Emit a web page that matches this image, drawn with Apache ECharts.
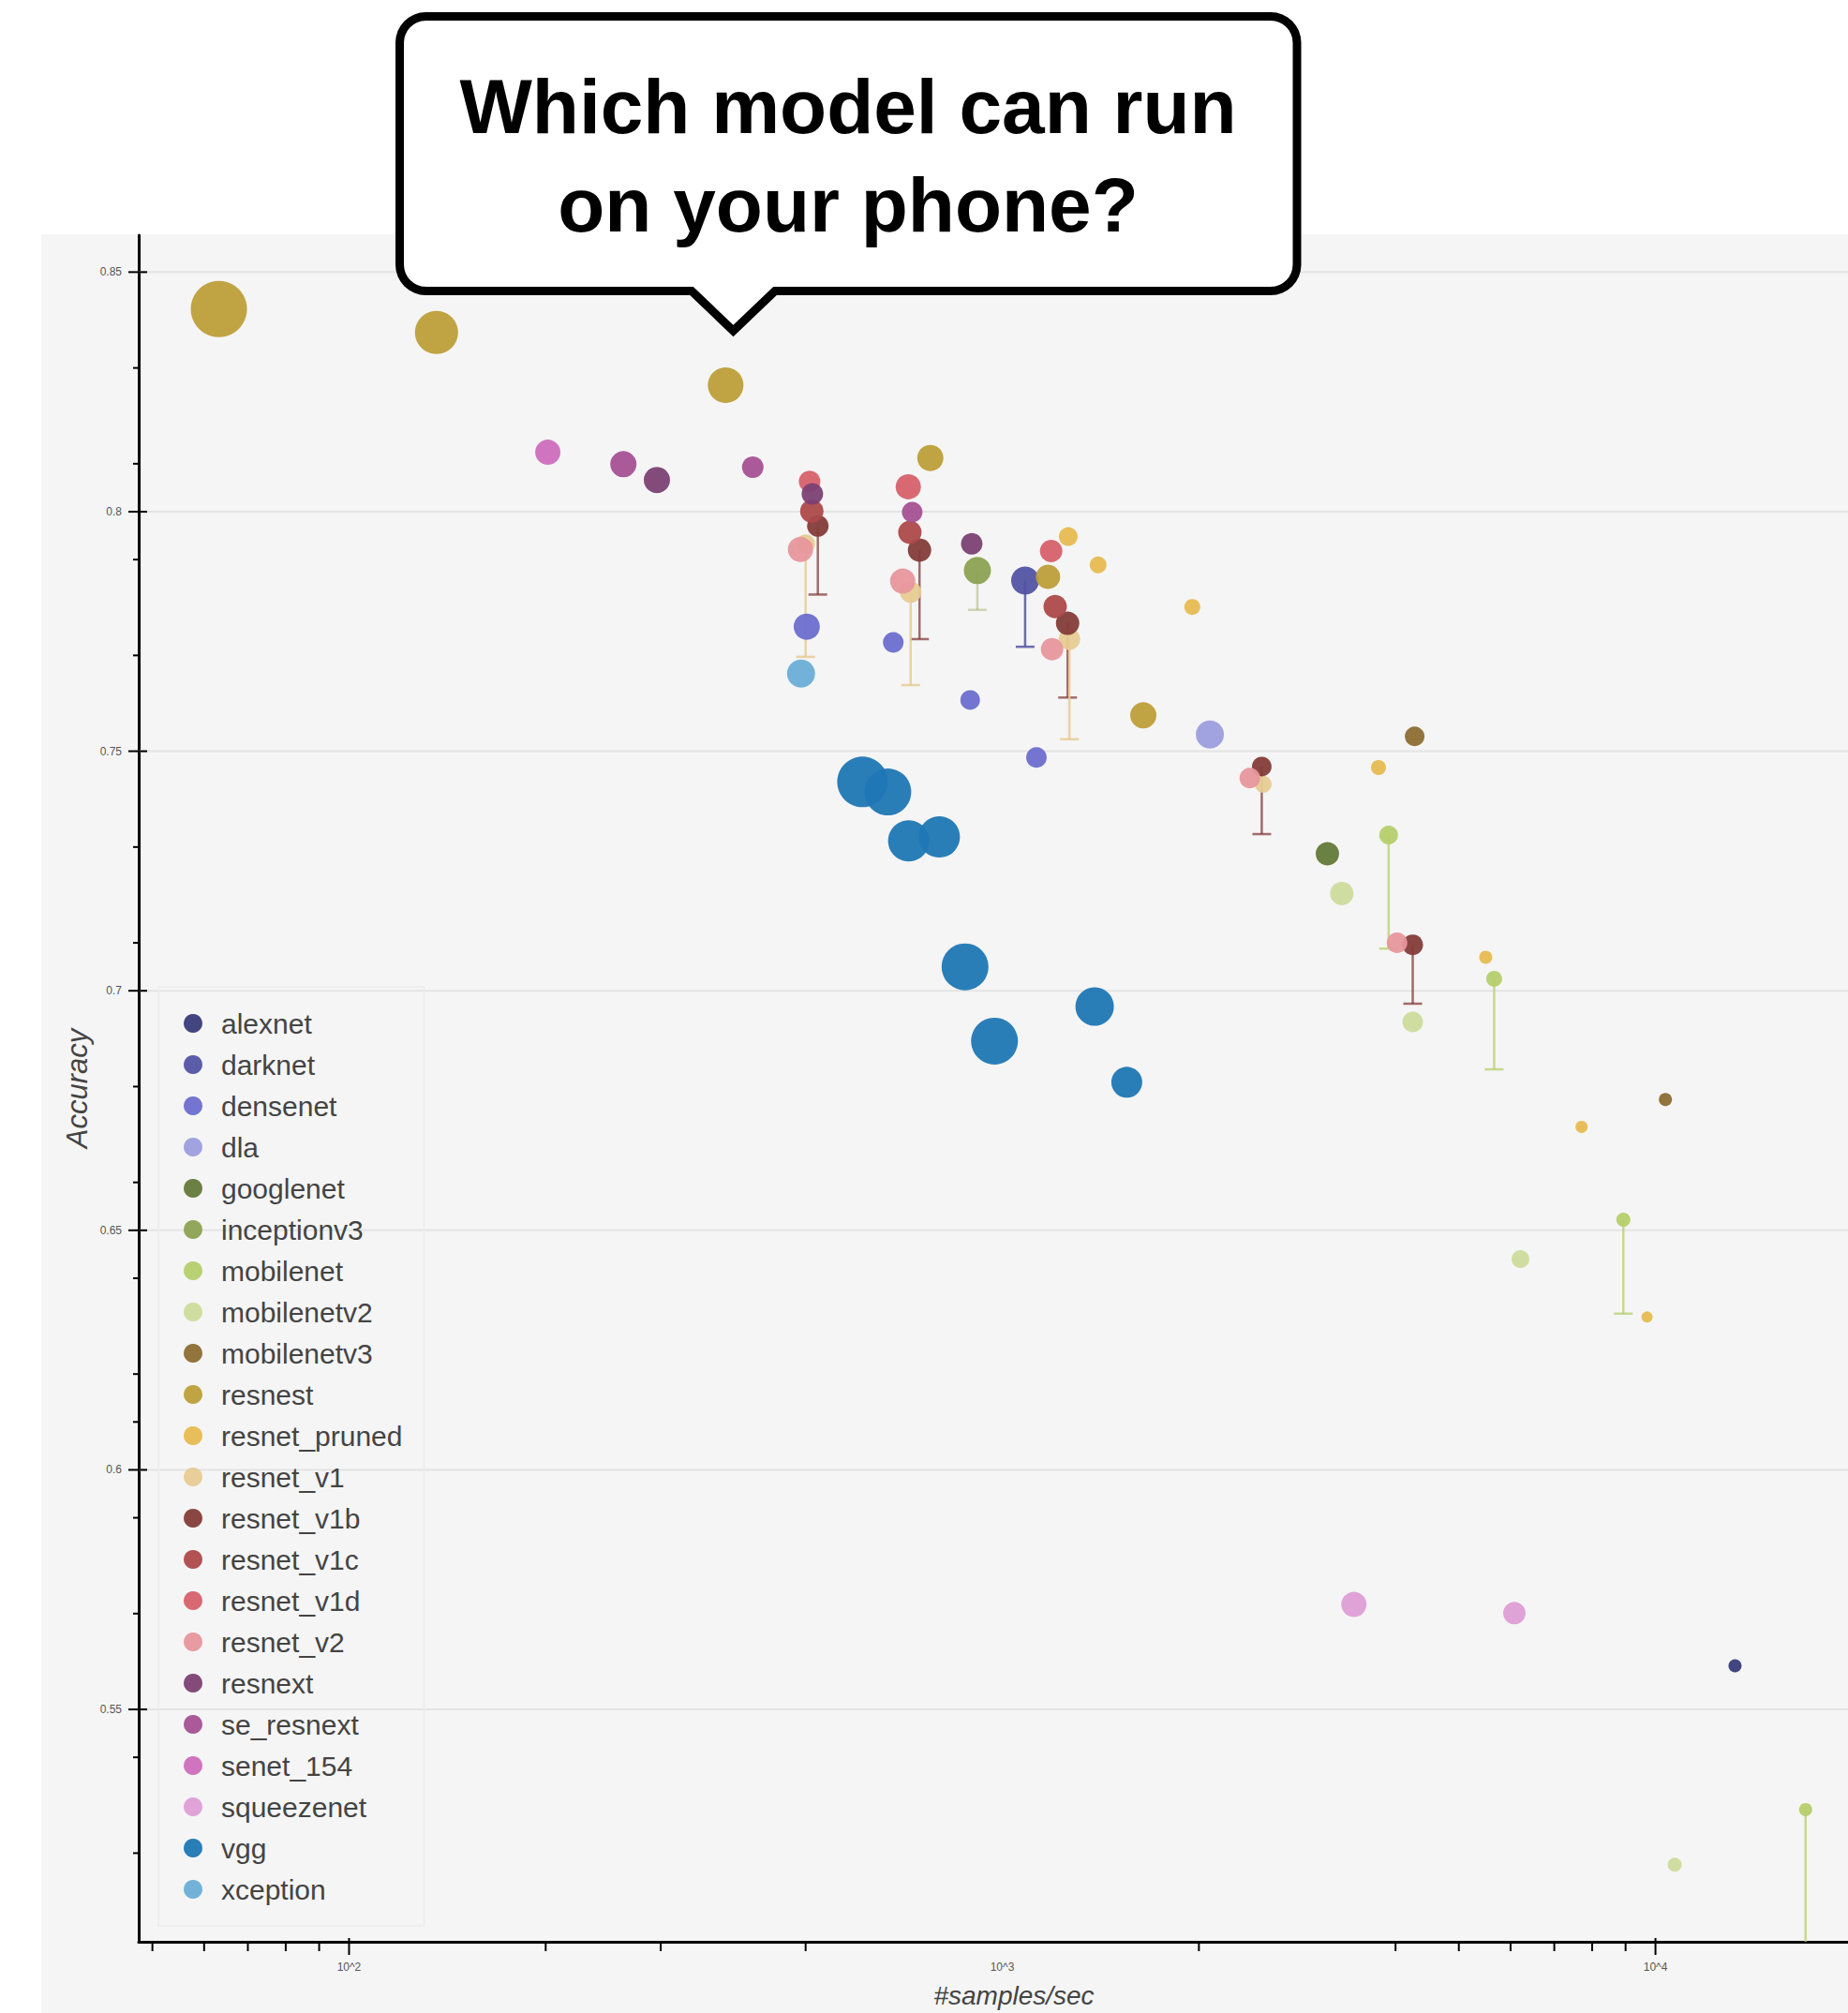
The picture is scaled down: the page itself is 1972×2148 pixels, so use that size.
<!DOCTYPE html>
<html>
<head>
<meta charset="utf-8">
<script src="https://cdn.jsdelivr.net/npm/echarts@6/dist/echarts.min.js"></script>
<style>
  html, body { margin: 0; padding: 0; background: #ffffff; }
  #wrap { position: relative; width: 1972px; height: 2148px; overflow: hidden; }
  #panel { position: absolute; left: 44px; top: 250px; width: 1928px; height: 1898px; background: #f5f5f5; }
  #chart { position: absolute; left: 0; top: 0; width: 1972px; height: 2148px; }
</style>
</head>
<body>
<div id="wrap"><div id="panel"></div><div id="chart"></div></div>
<script>
// ---------------- DATA ----------------
// each point: [samples per second, accuracy, relative model size]
const models = ['alexnet', 'darknet', 'densenet', 'dla', 'googlenet', 'inceptionv3', 'mobilenet',
  'mobilenetv2', 'mobilenetv3', 'resnest', 'resnet_pruned', 'resnet_v1', 'resnet_v1b', 'resnet_v1c',
  'resnet_v1d', 'resnet_v2', 'resnext', 'se_resnext', 'senet_154', 'squeezenet', 'vgg', 'xception'];

const colors = ['#393b79', '#5254a3', '#6b6ecf', '#9c9ede', '#637939', '#8ca252', '#b5cf6b',
  '#cedb9c', '#8c6d31', '#bd9e39', '#e7ba52', '#e7cb94', '#843c39', '#ad494a', '#d6616b',
  '#e7969c', '#7b4173', '#a55194', '#ce6dbd', '#de9ed6', '#1f77b4', '#6baed6'];

const alexnet = [[13236, 0.5591, 7]];
const darknet = [[1084, 0.7856, 15]];
const densenet = [[502, 0.7760, 14], [681, 0.7727, 11], [893, 0.7607, 10.5], [1128, 0.7487, 11]];
const dla = [[2079, 0.7535, 15]];
const googlenet = [[3146, 0.7286, 12.5]];
const inceptionv3 = [[916, 0.7877, 14.5]];
const mobilenet = [[3904, 0.7325, 10], [5663, 0.7025, 8.5], [8929, 0.6522, 7.5], [16976, 0.5291, 7]];
const mobilenetv2 = [[3310, 0.7203, 12.5], [4250, 0.6935, 11], [6213, 0.6440, 9.5], [10701, 0.5176, 7.5]];
const mobilenetv3 = [[4279, 0.7531, 10.5], [10356, 0.6773, 7]];
const resnest = [[63.2, 0.8423, 30], [136.1, 0.8374, 23], [377.2, 0.8264, 19], [776, 0.8112, 14], [1175, 0.7864, 13], [1644, 0.7575, 14]];
const resnet_pruned = [[1262, 0.7948, 10], [1402, 0.7889, 9], [1954, 0.7801, 8.5], [3767, 0.7466, 8], [5497, 0.7070, 7], [7706, 0.6716, 6.5], [9707, 0.6319, 6]];
const resnet_v1 = [[500, 0.7933, 10], [724, 0.7832, 11.5], [1267, 0.7734, 11.5], [2509, 0.7431, 9]];
const resnet_v1b = [[522, 0.7970, 11.5], [747, 0.7920, 12.5], [1259, 0.7767, 12.5], [2496, 0.7468, 10.5], [4250, 0.7096, 11]];
const resnet_v1c = [[511, 0.8001, 12.5], [722, 0.7957, 12.5], [1205, 0.7802, 12.5]];
const resnet_v1d = [[507, 0.8063, 11.5], [718, 0.8052, 13.5], [1188, 0.7918, 12]];
const resnet_v2 = [[491, 0.7921, 13.5], [704, 0.7855, 13.5], [1192, 0.7713, 12], [2393, 0.7444, 11], [4021, 0.7100, 11]];
const resnext = [[296, 0.8066, 14], [512, 0.8037, 11.5], [898, 0.7933, 11.5]];
const se_resnext = [[263, 0.8099, 14], [415, 0.8093, 11.5], [728, 0.7999, 11]];
const senet_154 = [[201.5, 0.8124, 13.5]];
const squeezenet = [[3454, 0.5719, 13.5], [6081, 0.5701, 12]];
const vgg = [[611, 0.7436, 27], [668, 0.7415, 25], [719, 0.7313, 22], [801, 0.7321, 22], [877, 0.7050, 25], [973, 0.6895, 25], [1385, 0.6967, 20.5], [1551, 0.6809, 16.5]];
const xception = [[492, 0.7662, 15]];

// error bars: [samples per second, upper accuracy, lower accuracy]
const resnet_v1b_err = [[522, 0.7970, 0.7827], [747, 0.7920, 0.7734], [1259, 0.7767, 0.7612], [2496, 0.7468, 0.7327], [4250, 0.7096, 0.6973]];
const resnet_v1_err = [[500, 0.7933, 0.7697], [724, 0.7832, 0.7638], [1267, 0.7734, 0.7525]];
const inceptionv3_err = [[916, 0.7877, 0.7795]];
const darknet_err = [[1084, 0.7856, 0.7718]];
const mobilenet_err = [[3904, 0.7325, 0.7088], [5663, 0.7025, 0.6836], [8929, 0.6522, 0.6326], [16976, 0.5291, 0.49]];

// axes
const X_MIN = 47.64, X_MAX = 19712;
const Y_MIN = 0.5015, Y_MAX = 0.8577;
const xLabelTicks = [100, 1000, 10000];
const xTickLabels = ['10^2', '10^3', '10^4'];
const xMajorTickMarks = [100, 10000];
const xMinorTicks = [50, 60, 70, 80, 90, 200, 300, 500, 2000, 4000, 5000, 6000, 7000, 8000, 9000];
const yMajorTicks = [0.55, 0.6, 0.65, 0.7, 0.75, 0.8, 0.85];
const yTickLabels = ['0.55', '0.6', '0.65', '0.7', '0.75', '0.8', '0.85'];
const yMinorTicks = [0.52, 0.54, 0.57, 0.59, 0.61, 0.62, 0.64, 0.66, 0.68, 0.71, 0.73, 0.77, 0.79, 0.81, 0.83];

// ---------------- CHART ----------------
const modelData = {alexnet, darknet, densenet, dla, googlenet, inceptionv3, mobilenet, mobilenetv2,
  mobilenetv3, resnest, resnet_pruned, resnet_v1, resnet_v1b, resnet_v1c, resnet_v1d, resnet_v2,
  resnext, se_resnext, senet_154, squeezenet, vgg, xception};
const errData = {resnet_v1b: resnet_v1b_err, resnet_v1: resnet_v1_err, inceptionv3: inceptionv3_err,
  darknet: darknet_err, mobilenet: mobilenet_err};
const errOpacity = {resnet_v1b: 0.75, resnet_v1: 0.85, inceptionv3: 0.4, darknet: 0.85, mobilenet: 0.75};

const FONT = '"Liberation Sans", Arial, Helvetica, sans-serif';
const series = [];

// grid lines
series.push({
  type: 'custom', name: '_grid', z: 1, silent: true, clip: false,
  data: yMajorTicks.map(v => [X_MIN, v]),
  renderItem: (params, api) => {
    const cs = params.coordSys;
    const p = api.coord([X_MIN, api.value(1)]);
    return {type: 'line', shape: {x1: cs.x, y1: p[1], x2: cs.x + cs.width, y2: p[1]},
      style: {stroke: '#e4e4e4', lineWidth: 2}};
  }
});

// y ticks + labels
series.push({
  type: 'custom', name: '_yticks', z: 5, silent: true, clip: false,
  data: yMajorTicks.map(v => [X_MIN, v]),
  renderItem: (params, api) => {
    const cs = params.coordSys;
    const p = api.coord([X_MIN, api.value(1)]);
    return {type: 'group', children: [
      {type: 'line', shape: {x1: cs.x - 11, y1: p[1], x2: cs.x + 9, y2: p[1]}, style: {stroke: '#000', lineWidth: 2}},
      {type: 'text', x: cs.x - 18, y: p[1], style: {text: yTickLabels[params.dataIndex], fill: '#555',
        font: '12px ' + FONT, align: 'right', verticalAlign: 'middle'}}
    ]};
  }
});
series.push({
  type: 'custom', name: '_yminor', z: 5, silent: true, clip: false,
  data: yMinorTicks.map(v => [X_MIN, v]),
  renderItem: (params, api) => {
    const cs = params.coordSys;
    const p = api.coord([X_MIN, api.value(1)]);
    return {type: 'line', shape: {x1: cs.x - 6, y1: p[1], x2: cs.x, y2: p[1]}, style: {stroke: '#000', lineWidth: 2}};
  }
});

// x ticks + labels
series.push({
  type: 'custom', name: '_xmajor', z: 5, silent: true, clip: false,
  data: xMajorTickMarks.map(v => [v, Y_MIN]),
  renderItem: (params, api) => {
    const cs = params.coordSys;
    const p = api.coord([api.value(0), Y_MIN]);
    const y0 = cs.y + cs.height;
    return {type: 'line', shape: {x1: p[0], y1: y0 - 4, x2: p[0], y2: y0 + 14}, style: {stroke: '#000', lineWidth: 2}};
  }
});
series.push({
  type: 'custom', name: '_xminor', z: 5, silent: true, clip: false,
  data: xMinorTicks.map(v => [v, Y_MIN]),
  renderItem: (params, api) => {
    const cs = params.coordSys;
    const p = api.coord([api.value(0), Y_MIN]);
    const y0 = cs.y + cs.height;
    return {type: 'line', shape: {x1: p[0], y1: y0, x2: p[0], y2: y0 + 10}, style: {stroke: '#000', lineWidth: 2}};
  }
});
series.push({
  type: 'custom', name: '_xlabels', z: 5, silent: true, clip: false,
  data: xLabelTicks.map(v => [v, Y_MIN]),
  renderItem: (params, api) => {
    const cs = params.coordSys;
    const p = api.coord([api.value(0), Y_MIN]);
    const y0 = cs.y + cs.height;
    return {type: 'text', x: p[0], y: y0 + 27, style: {text: xTickLabels[params.dataIndex], fill: '#555',
      font: '12px ' + FONT, align: 'center', verticalAlign: 'middle'}};
  }
});

// error bars
Object.keys(errData).forEach(m => {
  const color = colors[models.indexOf(m)];
  const op = errOpacity[m];
  series.push({
    type: 'custom', name: '_err_' + m, z: 2, silent: true, clip: true,
    encode: {x: 0, y: [1, 2]},
    data: errData[m],
    renderItem: (params, api) => {
      const x = api.value(0);
      const a = api.coord([x, api.value(1)]);
      const b = api.coord([x, api.value(2)]);
      const st = {stroke: color, lineWidth: 2.5, opacity: op};
      return {type: 'group', children: [
        {type: 'line', shape: {x1: a[0], y1: a[1], x2: b[0], y2: b[1]}, style: st},
        {type: 'line', shape: {x1: b[0] - 10, y1: b[1], x2: b[0] + 10, y2: b[1]}, style: st}
      ]};
    }
  });
});

// scatter points
models.forEach((m, i) => {
  series.push({
    type: 'scatter', name: m, z: 3,
    data: modelData[m],
    symbol: 'circle',
    symbolSize: d => d[2] * 2,
    itemStyle: {color: colors[i], opacity: 0.95},
    emphasis: {disabled: true}
  });
});

// callout bubble outline (rounded box + pointer), as polygon points
const bx0 = 426.5, by0 = 17.5, bx1 = 1384, by1 = 310.5, br = 28;
const pa = 738, pb = 827, tipX = 782.5, tipY = 353;
function arcPts(cx, cy, a0, a1) {
  const pts = [];
  for (let k = 0; k <= 8; k++) {
    const a = a0 + (a1 - a0) * k / 8;
    pts.push([cx + br * Math.cos(a), cy + br * Math.sin(a)]);
  }
  return pts;
}
const PI = Math.PI;
const bubblePts = [].concat(
  arcPts(bx0 + br, by0 + br, PI, 1.5 * PI),
  arcPts(bx1 - br, by0 + br, 1.5 * PI, 2 * PI),
  arcPts(bx1 - br, by1 - br, 0, 0.5 * PI),
  [[pb, by1], [tipX, tipY], [pa, by1]],
  arcPts(bx0 + br, by1 - br, 0.5 * PI, PI)
);

const option = {
  animation: false,
  backgroundColor: 'transparent',
  grid: {left: 148, right: 0, top: 251, bottom: 76, containLabel: false},
  xAxis: {
    type: 'log', logBase: 10, min: X_MIN, max: X_MAX,
    axisLine: {show: true, onZero: false, lineStyle: {color: '#000', width: 3}},
    axisTick: {show: false}, axisLabel: {show: false}, splitLine: {show: false}, minorTick: {show: false},
    name: '#samples/sec', nameLocation: 'middle', nameGap: 43,
    nameTextStyle: {fontFamily: FONT, fontStyle: 'italic', fontSize: 28, color: '#444', padding: [0, 0, 0, 44]}
  },
  yAxis: {
    type: 'value', min: Y_MIN, max: Y_MAX, scale: true,
    axisLine: {show: true, onZero: false, lineStyle: {color: '#000', width: 3}},
    axisTick: {show: false}, axisLabel: {show: false}, splitLine: {show: false},
    name: 'Accuracy', nameLocation: 'middle', nameGap: 50, nameRotate: 90,
    nameTextStyle: {fontFamily: FONT, fontStyle: 'italic', fontSize: 31, color: '#444'}
  },
  legend: {
    data: models, orient: 'vertical', left: 169, top: 1053,
    icon: 'circle', itemWidth: 50, itemHeight: 20, itemGap: 14,
    padding: [24, 23, 24, 27],
    backgroundColor: 'transparent', borderColor: '#ebebeb', borderWidth: 1.5,
    selectedMode: false,
    textStyle: {fontFamily: FONT, fontSize: 30, color: '#444'}
  },
  graphic: {
    elements: [
      {type: 'polygon', z: 100, shape: {points: bubblePts},
        style: {fill: '#ffffff', stroke: '#000000', lineWidth: 9, lineJoin: 'miter'}},
      {type: 'text', z: 101, x: 905, y: 113,
        style: {text: 'Which model can run', fill: '#000', font: 'bold 82px ' + FONT,
          align: 'center', verticalAlign: 'middle'}},
      {type: 'text', z: 101, x: 905, y: 218,
        style: {text: 'on your phone?', fill: '#000', font: 'bold 82px ' + FONT,
          align: 'center', verticalAlign: 'middle'}}
    ]
  },
  series: series
};

const chart = echarts.init(document.getElementById('chart'), null, {renderer: 'svg', width: 1972, height: 2148});
chart.setOption(option);
</script>
</body>
</html>
